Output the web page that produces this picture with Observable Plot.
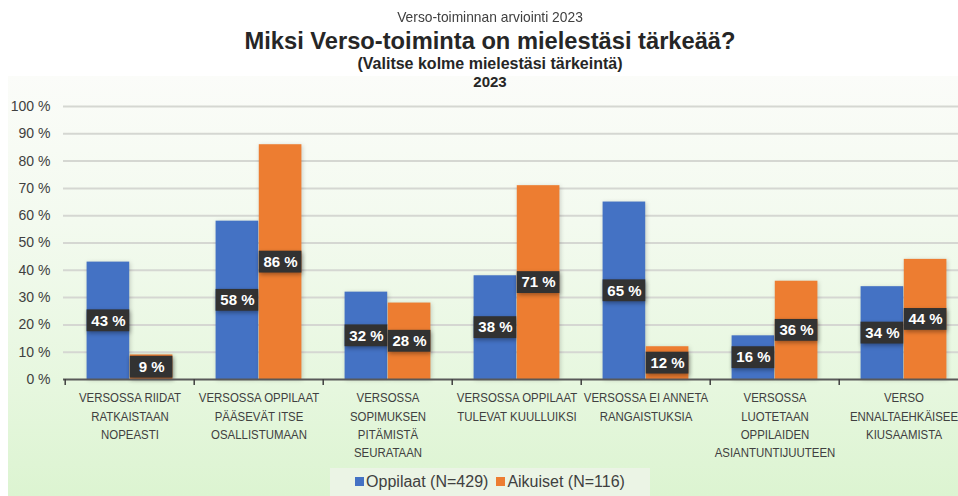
<!DOCTYPE html>
<html>
<head>
<meta charset="utf-8">
<script src="https://cdn.jsdelivr.net/npm/d3@7"></script>
<script src="https://cdn.jsdelivr.net/npm/@observablehq/plot@0.6"></script>
<style>
  html, body { margin: 0; padding: 0; background: #fff; overflow: hidden; }
  #wrap { position: relative; width: 958px; height: 496px; overflow: hidden; background: #fff; font-family: "Liberation Sans", Arial, sans-serif; color: #404040; }
  #panel { position: absolute; left: 8px; top: 76px; right: 0; bottom: 0;
    background: linear-gradient(to bottom, #fbfcf9 0%, #f3faef 35%, #e6f7de 75%, #dcf4d1 100%); }
  .hdr { position: absolute; left: 0; width: 980px; text-align: center; white-space: nowrap; transform-origin: 490px 0; }
  #h1 { top: 8px; font-size: 15px; color: #404040; transform: scaleX(0.92); }
  #h2 { top: 28px; font-size: 23.7px; font-weight: bold; color: #262626; }
  #h3 { top: 55px; font-size: 16px; font-weight: bold; color: #262626; }
  #h4 { top: 73px; font-size: 15px; font-weight: bold; color: #262626; }
  #chart { position: absolute; left: 0; top: 90px; }
  #legend { position: absolute; left: 330px; top: 468px; width: 320px; height: 28px; background: rgba(236,244,231,0.9);
    display: flex; align-items: center; justify-content: center; gap: 8px; font-size: 16px; color: #404040; }
  .sw { display: inline-block; width: 9px; height: 9px; margin-right: 2px; vertical-align: 1px; }
</style>
</head>
<body>
<div id="wrap">
  <div id="panel"></div>
  <div class="hdr" id="h1">Verso-toiminnan arviointi 2023</div>
  <div class="hdr" id="h2">Miksi Verso-toiminta on mielestäsi tärkeää?</div>
  <div class="hdr" id="h3">(Valitse kolme mielestäsi tärkeintä)</div>
  <div class="hdr" id="h4">2023</div>
  <div id="chart"></div>
  <div id="legend"></div>
</div>
<script>
const categories = [
  "VERSOSSA RIIDAT\nRATKAISTAAN\nNOPEASTI",
  "VERSOSSA OPPILAAT\nPÄÄSEVÄT ITSE\nOSALLISTUMAAN",
  "VERSOSSA\nSOPIMUKSEN\nPITÄMISTÄ\nSEURATAAN",
  "VERSOSSA OPPILAAT\nTULEVAT KUULLUIKSI",
  "VERSOSSA EI ANNETA\nRANGAISTUKSIA",
  "VERSOSSA\nLUOTETAAN\nOPPILAIDEN\nASIANTUNTIJUUTEEN",
  "VERSO\nENNALTAEHKÄISEE\nKIUSAAMISTA"
];
const seriesNames = ["Oppilaat (N=429)", "Aikuiset (N=116)"];
const oppilaat = [43, 58, 32, 38, 65, 16, 34];
const aikuiset = [9, 86, 28, 71, 12, 36, 44];
const yTicks = [0, 10, 20, 30, 40, 50, 60, 70, 80, 90, 100];
const colors = ["#4472C4", "#ED7D31"];

const rowsA = categories.map((c, i) => ({cat: c, val: oppilaat[i]}));
const rowsB = categories.map((c, i) => ({cat: c, val: aikuiset[i]}));

const x0 = 63, x1 = 970;
const bw = (x1 - x0) / categories.length;
const barW = bw / 3;
const pad = (bw - 2 * barW) / 2;

function barMarks(rows, color, left) {
  const insetLeft = left ? pad : pad + barW;
  const insetRight = left ? pad + barW : pad;
  const dx = left ? -barW / 2 : barW / 2;
  return [
    Plot.barY(rows, {x: "cat", y: "val", fill: color, insetLeft, insetRight}),
    Plot.barY(rows, {x: "cat", y1: d => d.val / 2 - 4, y2: d => d.val / 2 + 4, fill: "#323232", insetLeft, insetRight}),
    Plot.text(rows, {x: "cat", y: d => d.val / 2, text: d => d.val + " %", dx, fill: "white", fontWeight: "bold", fontSize: 15, fontFamily: '"Liberation Sans", Arial, sans-serif'})
  ];
}

const chart = Plot.plot({
  width: 958,
  height: 376,
  marginTop: 16,
  marginBottom: 87,
  marginLeft: x0,
  marginRight: 0,
  style: {background: "transparent", overflow: "visible", fontFamily: '"Liberation Sans", Arial, sans-serif'},
  x: {domain: categories, range: [x0, x1], padding: 0, axis: null},
  y: {domain: [0, 100], axis: null},
  marks: [
    Plot.ruleY(yTicks.slice(1), {stroke: "#d5d7d2", strokeWidth: 2}),
    ...barMarks(rowsA, colors[0], true),
    ...barMarks(rowsB, colors[1], false),
    Plot.ruleY([0], {stroke: "#595959", strokeWidth: 2}),
    Plot.axisX({ticks: categories, tickSize: 6, dx: -bw / 2, tickFormat: () => "", stroke: "#404040", strokeWidth: 1.5, label: null}),
    Plot.axisY({ticks: yTicks, tickSize: 0, tickPadding: 13, tickFormat: d => d + " %", fontSize: 14, fill: "#404040", label: null}),
    Plot.text(categories, {x: d => d, y: 0, text: d => d, dy: 10, lineAnchor: "top", lineHeight: 1.4, fontSize: 13, fill: "#404040"})
  ]
});
document.getElementById("chart").appendChild(chart);

// styling touches: soft shadows on bars and label boxes, condensed category labels
chart.querySelectorAll('g[aria-label="bar"]').forEach((g, i) => {
  g.style.filter = (i % 2 === 1)
    ? "drop-shadow(1px 2px 2px rgba(0,0,0,0.35))"
    : "drop-shadow(1px 1px 2px rgba(0,0,0,0.18))";
});
const textGroups = chart.querySelectorAll('g[aria-label="text"]');
const catLabels = textGroups[textGroups.length - 1];
catLabels.querySelectorAll("text").forEach(t => {
  const tr = t.getAttribute("transform") || "";
  t.setAttribute("transform", tr + " scale(0.88,1)");
});

const lg = document.getElementById("legend");
seriesNames.forEach((s, i) => {
  const item = document.createElement("span");
  item.innerHTML = `<span class="sw" style="background:${colors[i]}"></span>${s}`;
  lg.appendChild(item);
});
</script>
</body>
</html>
